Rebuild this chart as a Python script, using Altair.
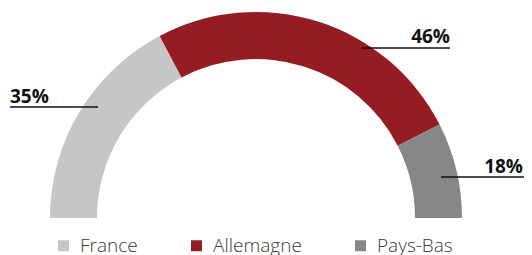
import math
import altair as alt
import pandas as pd

# ---- data ----
countries = ["France", "Allemagne", "Pays-Bas"]
arc_share = [34.5, 50.5, 15.0]          # arc extents as drawn in the picture
value_labels = ["35%", "46%", "18%"]   # printed labels
colors = ["#c6c6c6", "#951c23", "#878787"]

# ---- annotation layout (pixels inside the plot area) ----
lab_x = [2, 442, 515]
lab_y = [95, 35, 165]
rule_x1 = [2, 354, 433]
rule_x2 = [90, 442, 516]
rule_y = [99, 40, 169]

W, H = 516, 247
CX, CY = 248, 210
R_OUT, R_IN = 206, 159

df = pd.DataFrame({"country": countries, "share": arc_share,
                   "idx": list(range(len(countries)))})
ann = pd.DataFrame({"label": value_labels, "lx": lab_x, "ly": lab_y,
                    "rx1": rule_x1, "rx2": rule_x2, "ry": rule_y,
                    "idx": list(range(len(countries)))})

arc = alt.Chart(df).mark_arc(radius=R_OUT, radius2=R_IN).encode(
    theta=alt.Theta("share:Q", stack=True,
                    scale=alt.Scale(range=[-math.pi / 2, math.pi / 2])),
    color=alt.Color("country:N",
                    scale=alt.Scale(domain=countries, range=colors),
                    sort=countries,
                    legend=alt.Legend(orient="none", legendX=46, legendY=228,
                                      direction="horizontal", title=None,
                                      symbolType="square", symbolSize=121,
                                      symbolStrokeWidth=0,
                                      labelFontSize=19, labelFont="Open Sans",
                                      labelFontWeight=300,
                                      labelColor="#3a3a3a", labelOffset=7,
                                      columnPadding=49)),
    order=alt.Order("idx:Q"),
    x=alt.value(CX), y=alt.value(CY),
)

rules = alt.Chart(ann).mark_rule(color="#111111", strokeWidth=1.5).encode(
    x=alt.X("rx1:Q", scale=None), x2="rx2:Q", y=alt.Y("ry:Q", scale=None)
)

text_left = alt.Chart(ann).transform_filter("datum.idx == 0").mark_text(
    align="left", baseline="alphabetic", font="Open Sans", fontWeight="bold",
    fontSize=19, color="#111111"
).encode(x=alt.X("lx:Q", scale=None), y=alt.Y("ly:Q", scale=None), text="label:N")

text_right = alt.Chart(ann).transform_filter("datum.idx > 0").mark_text(
    align="right", baseline="alphabetic", font="Open Sans", fontWeight="bold",
    fontSize=19, color="#111111"
).encode(x=alt.X("lx:Q", scale=None), y=alt.Y("ly:Q", scale=None), text="label:N")

chart = alt.layer(arc, rules, text_left, text_right).properties(
    width=W, height=H, padding=0, autosize=alt.AutoSizeParams(type="none")
).configure_view(stroke=None)

chart.save("out.html", embed_options={"renderer": "svg", "actions": False})
